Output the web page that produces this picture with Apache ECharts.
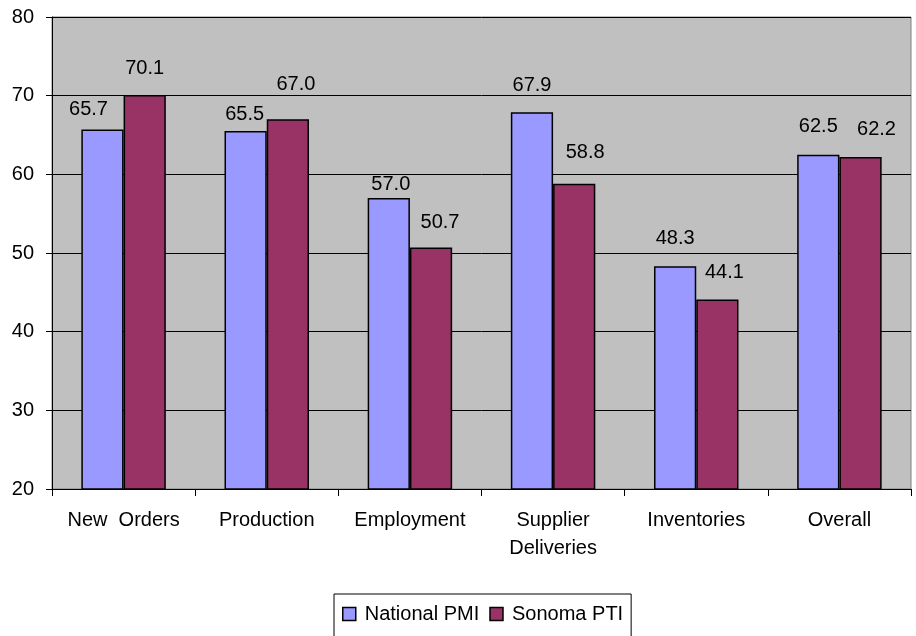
<!DOCTYPE html>
<html><head><meta charset="utf-8">
<script src="https://cdn.jsdelivr.net/npm/echarts@6/dist/echarts.min.js"></script>
<style>html,body{margin:0;padding:0;background:#fff}#c{width:916px;height:636px}</style>
</head><body><div id="c"></div>
<script>
const categories = ['New  Orders', 'Production', 'Employment', 'Supplier\nDeliveries', 'Inventories', 'Overall'];
const nationalPMI = [65.7, 65.5, 57.0, 67.9, 48.3, 62.5];
const sonomaPTI = [70.1, 67.0, 50.7, 58.8, 44.1, 62.2];
const seriesNames = ['National PMI', 'Sonoma PTI'];
const yTicks = [20, 30, 40, 50, 60, 70, 80];

// label nudges (style only, px), mimicking the manually placed labels of the original
const nationalLabelNudge = [[-14, 7], [-1, 10], [2, 14], [0, 0], [0, -1], [0, -1]];
const sonomaLabelNudge = [[0, 1], [8, -8], [9, 2], [11, -4], [7, 0], [16, -1]];

const font = 'Liberation Sans, Arial, sans-serif';
const chart = echarts.init(document.getElementById('c'));
const baseLabel = {show: true, position: 'top', distance: 17, color: '#000', fontSize: 20, fontFamily: font,
  formatter: p => p.value.toFixed(1)};
const withNudges = (vals, nudges) => vals.map((v, i) => ({value: v, label: {offset: nudges[i]}}));

chart.setOption({
  animation: false,
  grid: {left: 52, right: 5, top: 17, bottom: 147, containLabel: false,
    show: true, backgroundColor: '#c0c0c0', borderColor: '#808080', borderWidth: 1},
  legend: {
    data: seriesNames, top: 594, left: 334, itemWidth: 13, itemHeight: 13, itemGap: 10,
    backgroundColor: '#fff', borderColor: '#000', borderWidth: 1, padding: [10, 8, 14, 8],
    textStyle: {fontSize: 20, fontFamily: font, color: '#000', padding: [0, 0, 0, 4]}, icon: 'rect',
    itemStyle: {borderColor: '#000', borderWidth: 1.5}
  },
  xAxis: {
    type: 'category', data: categories,
    axisLine: {lineStyle: {color: '#000', width: 1}},
    axisTick: {show: true, interval: 0, length: 7, lineStyle: {color: '#000'}},
    axisLabel: {interval: 0, fontSize: 20, fontFamily: font, color: '#000', margin: 17, lineHeight: 28, hideOverlap: false}
  },
  yAxis: {
    type: 'value', min: yTicks[0], max: yTicks[yTicks.length - 1], interval: 10,
    axisLine: {show: true, lineStyle: {color: '#000'}},
    axisTick: {show: true, length: 6, lineStyle: {color: '#000'}},
    axisLabel: {fontSize: 20, fontFamily: font, color: '#000', margin: 18},
    splitLine: {show: true, lineStyle: {color: '#000', width: 1}}
  },
  series: [
    {name: seriesNames[0], type: 'bar', data: withNudges(nationalPMI, nationalLabelNudge), barGap: '0%', barCategoryGap: '41%',
      itemStyle: {color: '#9999ff', borderColor: '#000', borderWidth: 1.5}, label: baseLabel},
    {name: seriesNames[1], type: 'bar', data: withNudges(sonomaPTI, sonomaLabelNudge),
      itemStyle: {color: '#993366', borderColor: '#000', borderWidth: 1.5}, label: baseLabel}
  ]
});
</script></body></html>
